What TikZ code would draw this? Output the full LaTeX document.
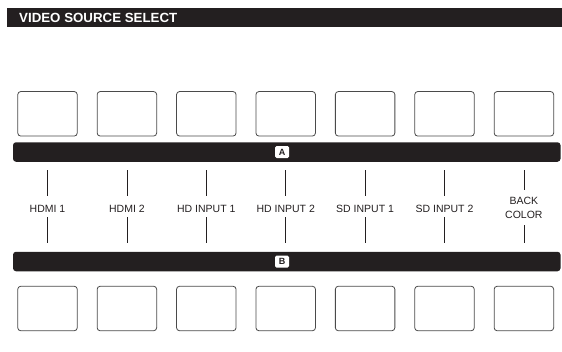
\documentclass[tikz,border=0pt]{standalone}
\usepackage{fontspec}
\setmainfont{Liberation Sans}
\usepackage{tikz}
\usetikzlibrary{positioning,calc}
\definecolor{panel}{HTML}{231F20}
\definecolor{keyedge}{HTML}{4A4A4A}
\tikzstyle{key}=[draw=keyedge, line width=0.8pt, rounded corners=3pt,
  minimum width=59.5pt, minimum height=44.5pt, inner sep=0pt]
\tikzstyle{bus}=[fill=panel, rounded corners=3pt, minimum width=547.5pt,
  minimum height=19.5pt, inner sep=0pt]
\tikzstyle{tag}=[fill=white, rounded corners=1.5pt, minimum width=14pt,
  minimum height=12pt, inner sep=0pt, font=\fontsize{9}{9}\selectfont\bfseries, text=panel]
\tikzstyle{lbl}=[inner sep=0pt, text height=16.5pt, text depth=4.5pt,
  font=\fontsize{10.5}{12}\selectfont, text=panel]
\tikzstyle{lbltwo}=[inner xsep=0pt, inner ysep=7pt, align=center,
  font=\fontsize{10.5}{14}\selectfont, text=panel]
\tikzstyle{conn}=[line width=0.8pt, draw=panel]

\begin{document}
\begin{tikzpicture}[x=1pt,y=-1pt]
\useasboundingbox (0,0) rectangle (562,351);
% title bar
\node[fill=panel, minimum width=554.5pt, minimum height=18.5pt, inner sep=0pt]
  (title) at (284.25,17.25) {};
\node[anchor=west, inner sep=0pt, text=white,
  font=\fontsize{13.3}{14}\selectfont\bfseries]
  (titletxt) at (19,17.6) {VIDEO SOURCE SELECT};
% buses A and B
\node[bus] (barA) at (286.75,152) {};
\node[bus] (barB) at (286.75,261.5) {};
\node[tag] (tagA) at (282,152) {A};
\node[tag] (tagB) at (282,261.5) {B};
% crosspoint keys and sources
\foreach \i/\txt/\sty/\ly in {1/{HDMI 1}/lbl/206.5, 2/{HDMI 2}/lbl/206.5,
    3/{HD INPUT 1}/lbl/206.5, 4/{HD INPUT 2}/lbl/206.5,
    5/{SD INPUT 1}/lbl/206.5, 6/{SD INPUT 2}/lbl/206.5,
    7/{BACK\\COLOR}/lbltwo/207.5} {
  \pgfmathsetmacro{\cx}{47.5+(\i-1)*79.4}
  \node[key] (keyA\i) at (\cx,113.8) {};
  \node[key] (keyB\i) at (\cx,308.5) {};
  \node[\sty] (src\i) at (\cx,\ly) {\txt};
  \draw[conn, shorten >=8pt] (src\i) -- (src\i |- barA.south);
  \draw[conn, shorten >=9pt] (src\i) -- (src\i |- barB.north);
}
\end{tikzpicture}
\end{document}
